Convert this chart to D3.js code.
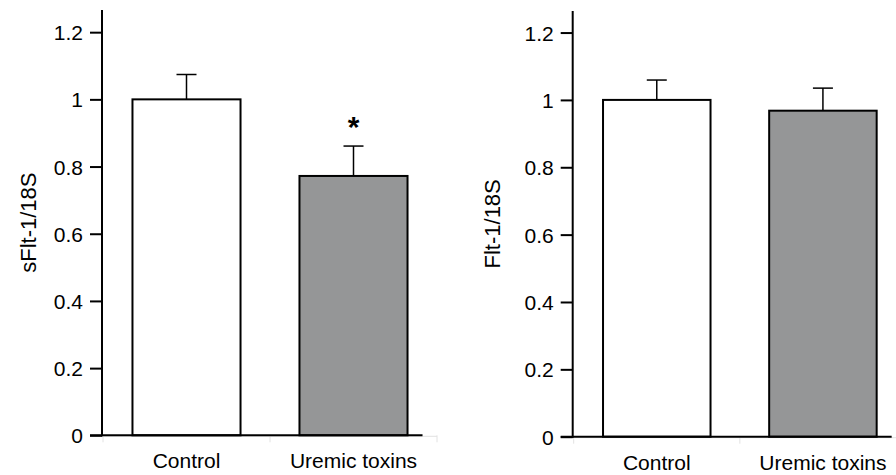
<!DOCTYPE html>
<meta charset="utf-8">
<title>sFlt-1 and Flt-1 expression</title>
<script src="https://d3js.org/d3.v7.min.js"></script>
<style>
body { margin: 0; background: #fff; }
text { font-family: "Liberation Sans", Arial, sans-serif; fill: #000; }
</style>
<body>
<div id="chart"></div>
<script>
// data
var groups = ["Control", "Uremic toxins"];
var sfltMeans = [1.0, 0.772];
var sfltErrs = [0.074, 0.089];
var fltMeans = [1.0, 0.968];
var fltErrs = [0.059, 0.067];
var yTicks = [0, 0.2, 0.4, 0.6, 0.8, 1, 1.2];
var sfltStars = ["", "*"];
var fltStars = ["", ""];

var svg = d3.select("#chart")
  .append("svg")
    .attr("width", 896)
    .attr("height", 475);

function drawPanel(p) {
  var g = svg.append("g");

  var y = d3.scaleLinear()
    .domain([0, p.yMax])
    .range([p.y0, p.yTop]);

  var x = d3.scaleBand()
    .domain(groups)
    .range([p.xLeft + 1, p.xRight])
    .paddingInner(0.353)
    .paddingOuter(0.1765);

  var step = x.step();

  // faint category axis behind everything
  g.append("line")
    .attr("x1", p.xLeft).attr("x2", p.xRight)
    .attr("y1", p.y0 + 1).attr("y2", p.y0 + 1)
    .attr("stroke", "#e2e2e2").attr("stroke-width", 1);
  g.selectAll(".faint")
    .data(d3.range(groups.length + 1))
    .enter().append("line")
      .attr("x1", function(i) { return p.xLeft + 1 + i * step; })
      .attr("x2", function(i) { return p.xLeft + 1 + i * step; })
      .attr("y1", p.y0).attr("y2", p.y0 + 7)
      .attr("stroke", "#e2e2e2").attr("stroke-width", 1);

  var data = groups.map(function(k, i) {
    return {name: k, mean: p.means[i], err: p.errs[i], star: p.stars[i]};
  });

  // error bars (upper only)
  g.selectAll(".err")
    .data(data)
    .enter().append("line")
      .attr("x1", function(d) { return x(d.name) + x.bandwidth() / 2; })
      .attr("x2", function(d) { return x(d.name) + x.bandwidth() / 2; })
      .attr("y1", function(d) { return y(d.mean); })
      .attr("y2", function(d) { return y(d.mean + d.err); })
      .attr("stroke", "#000").attr("stroke-width", 1.5);
  g.selectAll(".cap")
    .data(data)
    .enter().append("line")
      .attr("x1", function(d) { return x(d.name) + x.bandwidth() / 2 - 10; })
      .attr("x2", function(d) { return x(d.name) + x.bandwidth() / 2 + 10; })
      .attr("y1", function(d) { return y(d.mean + d.err); })
      .attr("y2", function(d) { return y(d.mean + d.err); })
      .attr("stroke", "#000").attr("stroke-width", 1.5);

  // bars
  g.selectAll(".bar")
    .data(data)
    .enter().append("rect")
      .attr("x", function(d) { return x(d.name); })
      .attr("y", function(d) { return y(d.mean); })
      .attr("width", x.bandwidth())
      .attr("height", function(d) { return y(0) - y(d.mean); })
      .attr("fill", function(d, i) { return i === 0 ? "#fff" : "#959697"; })
      .attr("stroke", "#000").attr("stroke-width", 2);

  // significance marks
  g.selectAll(".star")
    .data(data)
    .enter().append("text")
      .attr("x", function(d) { return x(d.name) + x.bandwidth() / 2; })
      .attr("y", function(d) { return y(d.mean + d.err) - 9; })
      .attr("text-anchor", "middle")
      .style("font-size", "30px")
      .style("font-weight", "bold")
      .text(function(d) { return d.star; });

  // y axis
  var yAxis = g.append("g")
    .attr("transform", "translate(" + p.xLeft + ",0)")
    .call(d3.axisLeft(y).tickValues(yTicks).tickSize(12).tickPadding(7)
      .tickFormat(function(d) { return d3.format("")(+d.toFixed(1)); }));
  yAxis.select(".domain").remove();
  yAxis.selectAll(".tick line").attr("stroke-width", 2);
  yAxis.selectAll(".tick text").style("font-size", "21px")
    .attr("font-family", null).attr("dy", "0.36em");
  g.append("line")
    .attr("x1", p.xLeft).attr("x2", p.xLeft)
    .attr("y1", p.yTop).attr("y2", p.y0 + 1)
    .attr("stroke", "#000").attr("stroke-width", 2);

  // baseline
  g.append("line")
    .attr("x1", p.xLeft - 12)
    .attr("x2", x(groups[groups.length - 1]) + x.bandwidth() + 15)
    .attr("y1", y(0)).attr("y2", y(0))
    .attr("stroke", "#000").attr("stroke-width", 2);

  // category labels
  g.selectAll(".cat")
    .data(groups)
    .enter().append("text")
      .attr("x", function(d) { return x(d) + x.bandwidth() / 2; })
      .attr("y", p.y0 + 33)
      .attr("text-anchor", "middle")
      .style("font-size", "21px")
      .text(function(d) { return d; });

  // y label
  g.append("text")
    .attr("transform", "translate(" + p.labelX + "," + ((p.y0 + p.yTop) / 2) + ") rotate(-90)")
    .attr("text-anchor", "middle")
    .style("font-size", "22px")
    .text(p.label);
}

drawPanel({
  xLeft: 102, xRight: 437, y0: 435.3, yTop: 10, yMax: 1.266,
  means: sfltMeans, errs: sfltErrs, stars: sfltStars,
  label: "sFlt-1/18S", labelX: 36
});
drawPanel({
  xLeft: 572.7, xRight: 906, y0: 436.7, yTop: 11, yMax: 1.264,
  means: fltMeans, errs: fltErrs, stars: fltStars,
  label: "Flt-1/18S", labelX: 500
});
</script>
</body>
